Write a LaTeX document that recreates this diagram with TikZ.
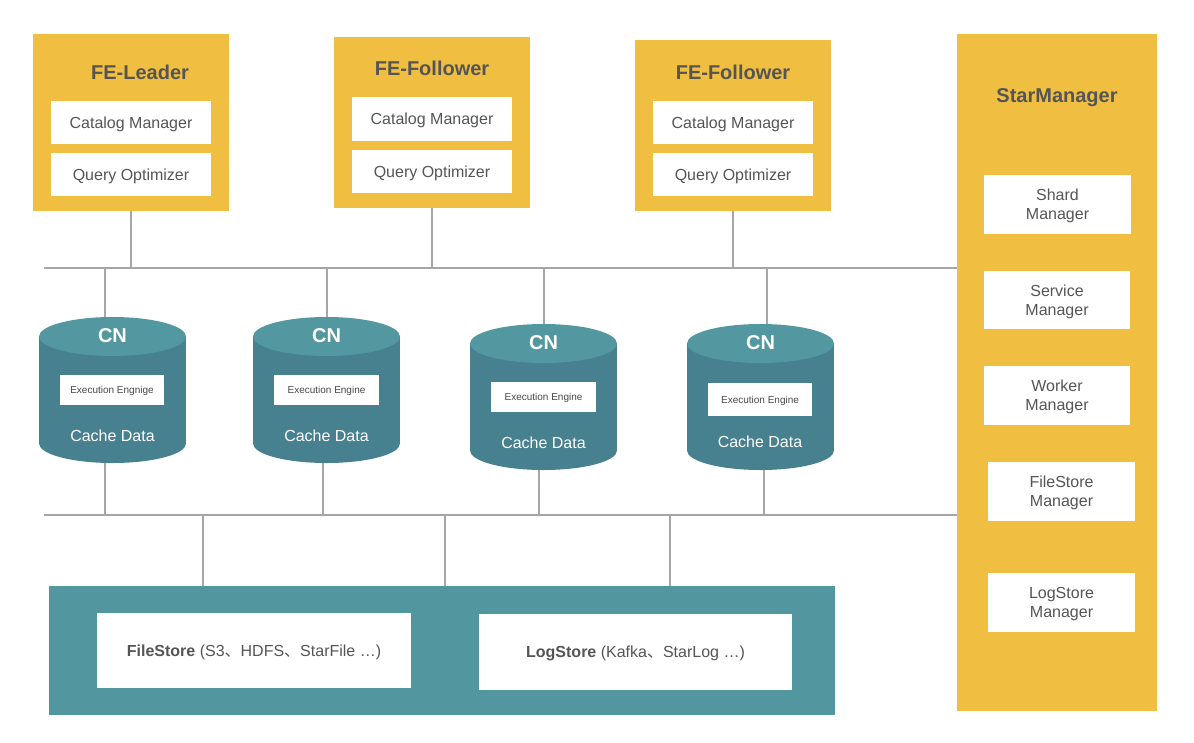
\documentclass[tikz,border=0pt]{standalone}
\usepackage{fontspec}
\setmainfont{Liberation Sans}
\newfontfamily\cjkfont{Noto Sans CJK SC}
\definecolor{ylw}{HTML}{F0BE41}
\definecolor{tealtop}{HTML}{5398A0}
\definecolor{tealbody}{HTML}{47808E}
\definecolor{tealbox}{HTML}{52979F}
\definecolor{linegray}{HTML}{A6A6A6}
\definecolor{txt}{HTML}{555555}
\newcommand\mycyl[4]{%
  \fill[tealbody] (#2,#4) ellipse [x radius=73.5, y radius=19.5];
  \fill[tealbody] ({#2-73.5},#3) rectangle ({#2+73.5},#4);
  \fill[tealtop] (#2,#3) ellipse [x radius=73.5, y radius=19.5];
  \node[inner sep=0pt, minimum width=110.25pt, minimum height={(#4-#3+39)*0.75pt}] (#1) at (#2,{(#3+#4)/2}) {};
}
\begin{document}
\begin{tikzpicture}[x=0.75pt,y=-0.75pt,
  sz/.style 2 args={minimum width=#1*0.75pt, minimum height=#2*0.75pt},
  panel/.style={fill=ylw, inner sep=0pt},
  wbox/.style={fill=white, inner sep=0pt, text=txt, align=center, text depth=0pt,
    font=\fontsize{12}{14.3}\selectfont},
  ebox/.style={fill=white, inner sep=0pt, text=txt!85!black, text depth=0pt,
    font=\fontsize{7.5}{9}\selectfont},
  ptitle/.style={text=txt, font=\fontsize{15}{18}\selectfont\bfseries},
  cntitle/.style={text=white, font=\fontsize{15}{18}\selectfont\bfseries},
  cntext/.style={text=white, font=\fontsize{12}{14}\selectfont},
  conn/.style={draw=linegray, line width=1.5pt},
]
\useasboundingbox (0,0) rectangle (1194,742);

% FE-Leader
\node[panel, sz={196}{177}] (fe1) at (131,122.5) {};
\node[ptitle] (fe1t) at (140,72) {FE-Leader};
\node[wbox, sz={160}{43}] (fe1c) at (131,122.5) {Catalog Manager};
\node[wbox, sz={160}{43}] (fe1q) at (131,174.5) {Query Optimizer};

% FE-Follower 1
\node[panel, sz={196}{171}] (fe2) at (432,122.5) {};
\node[ptitle] (fe2t) at (432,68) {FE-Follower};
\node[wbox, sz={160}{44}] (fe2c) at (432,119) {Catalog Manager};
\node[wbox, sz={160}{43}] (fe2q) at (432,171.5) {Query Optimizer};

% FE-Follower 2
\node[panel, sz={196}{171}] (fe3) at (733,125.5) {};
\node[ptitle] (fe3t) at (733,72) {FE-Follower};
\node[wbox, sz={160}{43}] (fe3c) at (733,122.5) {Catalog Manager};
\node[wbox, sz={160}{43}] (fe3q) at (733,174.5) {Query Optimizer};

% StarManager
\node[panel, sz={200}{677}] (sm) at (1057,372.5) {};
\node[ptitle] (smt) at (1057,98) {StarManager};
\node[wbox, sz={147}{59}] (smshard) at (1057.5,204.5) {Shard\\Manager};
\node[wbox, sz={146}{58}] (smservice) at (1057,300) {Service\\Manager};
\node[wbox, sz={146}{59}] (smworker) at (1057,395.5) {Worker\\Manager};
\node[wbox, sz={147}{59}] (smfile) at (1061.5,491.5) {FileStore\\Manager};
\node[wbox, sz={147}{59}] (smlog) at (1061.5,602.5) {LogStore\\Manager};

% buses
\coordinate (b1L) at (44,268);
\coordinate (b1R) at (sm.west |- b1L);
\coordinate (b2L) at (44,515);
\coordinate (b2R) at (sm.west |- b2L);

% CN cylinders
\mycyl{cn1}{112.5}{336.5}{443.5}
\mycyl{cn2}{326.5}{336.5}{443.5}
\mycyl{cn3}{543.5}{343.5}{450.5}
\mycyl{cn4}{760.5}{343.5}{450.5}
\node[cntitle] (cn1t) at (112.5,336) {CN};
\node[cntitle] (cn2t) at (326.5,336) {CN};
\node[cntitle] (cn3t) at (543.5,343) {CN};
\node[cntitle] (cn4t) at (760.5,343) {CN};
\node[ebox, sz={104}{30}] (cn1e) at (112,390) {Execution Engnige};
\node[ebox, sz={105}{30}] (cn2e) at (326.5,390) {Execution Engine};
\node[ebox, sz={105}{30}] (cn3e) at (543.5,397) {Execution Engine};
\node[ebox, sz={104}{33}] (cn4e) at (760,399.5) {Execution Engine};
\node[cntext] (cn1d) at (112.5,436) {Cache Data};
\node[cntext] (cn2d) at (326.5,436) {Cache Data};
\node[cntext] (cn3d) at (543.5,443) {Cache Data};
\node[cntext] (cn4d) at (760,442) {Cache Data};

% storage
\node[fill=tealbox, inner sep=0pt, sz={786}{129}] (store) at (442,650.5) {};
\node[wbox, sz={314}{75}] (fs) at (254,650.5) {\textbf{FileStore} (S3{\cjkfont 、}HDFS{\cjkfont 、}StarFile …)};
\node[wbox, sz={313}{76}] (ls) at (635.5,652) {\textbf{LogStore} (Kafka{\cjkfont 、}StarLog …)};

% connectors
\draw[conn] (b1L) -- (b1R);
\draw[conn] (b2L) -- (b2R);
\draw[conn] (fe1.south) -- (fe1.south |- b1L);
\draw[conn] (fe2.south) -- (fe2.south |- b1L);
\draw[conn] (fe3.south) -- (fe3.south |- b1L);
\draw[conn] ([xshift=-5.6pt]cn1.north |- b1L) -- ([xshift=-5.6pt]cn1.north);
\draw[conn] ([xshift=0.4pt]cn2.north |- b1L) -- ([xshift=0.4pt]cn2.north);
\draw[conn] ([xshift=0.4pt]cn3.north |- b1L) -- ([xshift=0.4pt]cn3.north);
\draw[conn] ([xshift=4.9pt]cn4.north |- b1L) -- ([xshift=4.9pt]cn4.north);
\draw[conn] ([xshift=-5.6pt]cn1.south) -- ([xshift=-5.6pt]cn1.south |- b2L);
\draw[conn] ([xshift=-2.6pt]cn2.south) -- ([xshift=-2.6pt]cn2.south |- b2L);
\draw[conn] ([xshift=-3.4pt]cn3.south) -- ([xshift=-3.4pt]cn3.south |- b2L);
\draw[conn] ([xshift=2.6pt]cn4.south) -- ([xshift=2.6pt]cn4.south |- b2L);
\draw[conn] ([xshift=-179.25pt]store.north |- b2L) -- ([xshift=-179.25pt]store.north);
\draw[conn] ([xshift=2.25pt]store.north |- b2L) -- ([xshift=2.25pt]store.north);
\draw[conn] ([xshift=171pt]store.north |- b2L) -- ([xshift=171pt]store.north);
\end{tikzpicture}
\end{document}
